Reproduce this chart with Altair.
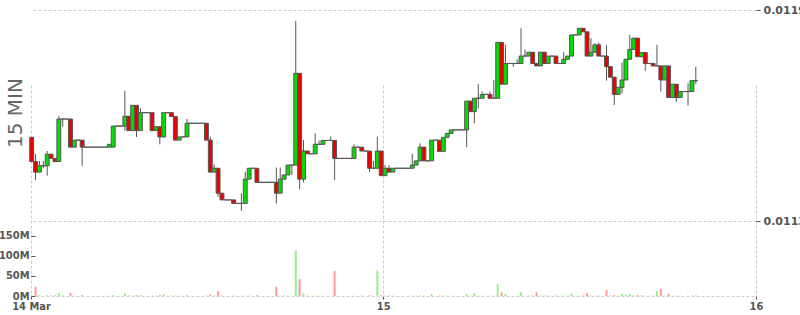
import altair as alt
import pandas as pd
import numpy as np

# ---- data (15-minute candles) ----
open_ = [
    0.011538, 0.011469, 0.011439, 0.011457, 0.011457, 0.011490, 0.011478, 0.011469, 0.011590, 0.011590,
    0.011590, 0.011510, 0.011530, 0.011530, 0.011510, 0.011510, 0.011510, 0.011510, 0.011510, 0.011510,
    0.011510, 0.011510, 0.011570, 0.011570, 0.011570, 0.011598, 0.011557, 0.011629, 0.011557, 0.011608,
    0.011608, 0.011608, 0.011557, 0.011568, 0.011539, 0.011608, 0.011608, 0.011597, 0.011530, 0.011539,
    0.011539, 0.011578, 0.011578, 0.011578, 0.011578, 0.011578, 0.011530, 0.011439, 0.011450, 0.011379,
    0.011360, 0.011360, 0.011360, 0.011350, 0.011350, 0.011350, 0.011419, 0.011450, 0.011450, 0.011410,
    0.011410, 0.011410, 0.011410, 0.011410, 0.011379, 0.011419, 0.011431, 0.011459, 0.011459, 0.011720,
    0.011419, 0.011499, 0.011491, 0.011491, 0.011518, 0.011518, 0.011529, 0.011529, 0.011529, 0.011478,
    0.011478, 0.011478, 0.011478, 0.011478, 0.011510, 0.011510, 0.011499, 0.011499, 0.011450, 0.011450,
    0.011499, 0.011429, 0.011450, 0.011439, 0.011450, 0.011450, 0.011450, 0.011450, 0.011450, 0.011459,
    0.011471, 0.011510, 0.011471, 0.011471, 0.011530, 0.011530, 0.011498, 0.011538, 0.011549, 0.011559,
    0.011559, 0.011559, 0.011559, 0.011641, 0.011611, 0.011649, 0.011649, 0.011660, 0.011660, 0.011649,
    0.011649, 0.011808, 0.011689, 0.011748, 0.011748, 0.011748, 0.011748, 0.011769, 0.011769, 0.011780,
    0.011748, 0.011741, 0.011780, 0.011748, 0.011769, 0.011769, 0.011748, 0.011748, 0.011760, 0.011769,
    0.011829, 0.011829, 0.011848, 0.011838, 0.011769, 0.011780, 0.011801, 0.011769, 0.011769, 0.011739,
    0.011709, 0.011660, 0.011680, 0.011701, 0.011760, 0.011788, 0.011820, 0.011767, 0.011779, 0.011748,
    0.011748, 0.011741, 0.011741, 0.011701, 0.011741, 0.011651, 0.011689, 0.011651, 0.011668, 0.011668,
    0.011668, 0.011699,
]
high = [
    0.011538, 0.011490, 0.011471, 0.011471, 0.011499, 0.011490, 0.011478, 0.011599, 0.011590, 0.011590,
    0.011590, 0.011530, 0.011530, 0.011530, 0.011510, 0.011510, 0.011510, 0.011510, 0.011510, 0.011510,
    0.011518, 0.011570, 0.011570, 0.011570, 0.011670, 0.011598, 0.011629, 0.011629, 0.011621, 0.011608,
    0.011608, 0.011608, 0.011568, 0.011568, 0.011608, 0.011608, 0.011608, 0.011597, 0.011539, 0.011539,
    0.011590, 0.011578, 0.011578, 0.011578, 0.011578, 0.011578, 0.011540, 0.011461, 0.011450, 0.011379,
    0.011360, 0.011360, 0.011360, 0.011350, 0.011379, 0.011440, 0.011450, 0.011450, 0.011450, 0.011410,
    0.011410, 0.011410, 0.011410, 0.011452, 0.011452, 0.011431, 0.011459, 0.011459, 0.011869, 0.011720,
    0.011530, 0.011499, 0.011491, 0.011549, 0.011529, 0.011529, 0.011529, 0.011540, 0.011529, 0.011478,
    0.011478, 0.011478, 0.011478, 0.011518, 0.011510, 0.011510, 0.011499, 0.011499, 0.011471, 0.011540,
    0.011499, 0.011459, 0.011459, 0.011450, 0.011450, 0.011450, 0.011450, 0.011450, 0.011491, 0.011471,
    0.011521, 0.011510, 0.011471, 0.011530, 0.011530, 0.011530, 0.011538, 0.011549, 0.011559, 0.011559,
    0.011559, 0.011559, 0.011641, 0.011641, 0.011649, 0.011690, 0.011668, 0.011660, 0.011668, 0.011701,
    0.011808, 0.011808, 0.011801, 0.011748, 0.011748, 0.011760, 0.011848, 0.011788, 0.011780, 0.011780,
    0.011748, 0.011780, 0.011780, 0.011769, 0.011769, 0.011769, 0.011748, 0.011780, 0.011769, 0.011829,
    0.011829, 0.011848, 0.011848, 0.011838, 0.011820, 0.011805, 0.011808, 0.011769, 0.011801, 0.011739,
    0.011709, 0.011680, 0.011750, 0.011760, 0.011829, 0.011820, 0.011820, 0.011779, 0.011779, 0.011748,
    0.011748, 0.011801, 0.011741, 0.011741, 0.011741, 0.011689, 0.011689, 0.011668, 0.011668, 0.011692,
    0.011699, 0.011739,
]
low = [
    0.011469, 0.011417, 0.011439, 0.011450, 0.011429, 0.011478, 0.011469, 0.011469, 0.011568, 0.011590,
    0.011510, 0.011510, 0.011530, 0.011457, 0.011510, 0.011510, 0.011510, 0.011510, 0.011510, 0.011510,
    0.011510, 0.011510, 0.011570, 0.011570, 0.011557, 0.011557, 0.011557, 0.011539, 0.011557, 0.011608,
    0.011608, 0.011557, 0.011557, 0.011518, 0.011539, 0.011608, 0.011597, 0.011530, 0.011530, 0.011539,
    0.011539, 0.011578, 0.011578, 0.011578, 0.011578, 0.011530, 0.011439, 0.011439, 0.011369, 0.011360,
    0.011360, 0.011360, 0.011350, 0.011350, 0.011329, 0.011350, 0.011419, 0.011450, 0.011410, 0.011410,
    0.011410, 0.011410, 0.011410, 0.011350, 0.011379, 0.011419, 0.011431, 0.011431, 0.011459, 0.011390,
    0.011410, 0.011491, 0.011491, 0.011491, 0.011518, 0.011518, 0.011529, 0.011529, 0.011417, 0.011478,
    0.011478, 0.011478, 0.011478, 0.011478, 0.011510, 0.011499, 0.011499, 0.011439, 0.011450, 0.011450,
    0.011429, 0.011429, 0.011439, 0.011439, 0.011450, 0.011450, 0.011450, 0.011450, 0.011450, 0.011459,
    0.011471, 0.011471, 0.011471, 0.011471, 0.011530, 0.011498, 0.011498, 0.011538, 0.011549, 0.011559,
    0.011559, 0.011559, 0.011510, 0.011611, 0.011578, 0.011620, 0.011649, 0.011660, 0.011649, 0.011649,
    0.011649, 0.011689, 0.011689, 0.011748, 0.011739, 0.011748, 0.011748, 0.011769, 0.011769, 0.011748,
    0.011741, 0.011741, 0.011748, 0.011748, 0.011769, 0.011748, 0.011748, 0.011748, 0.011760, 0.011769,
    0.011829, 0.011829, 0.011838, 0.011769, 0.011769, 0.011780, 0.011769, 0.011769, 0.011699, 0.011709,
    0.011630, 0.011660, 0.011663, 0.011701, 0.011760, 0.011788, 0.011767, 0.011767, 0.011727, 0.011748,
    0.011741, 0.011741, 0.011668, 0.011701, 0.011651, 0.011651, 0.011639, 0.011651, 0.011668, 0.011628,
    0.011668, 0.011689,
]
close = [
    0.011469, 0.011439, 0.011457, 0.011457, 0.011490, 0.011478, 0.011469, 0.011590, 0.011590, 0.011590,
    0.011510, 0.011530, 0.011530, 0.011510, 0.011510, 0.011510, 0.011510, 0.011510, 0.011510, 0.011510,
    0.011518, 0.011570, 0.011570, 0.011570, 0.011598, 0.011557, 0.011629, 0.011557, 0.011608, 0.011608,
    0.011608, 0.011557, 0.011568, 0.011539, 0.011608, 0.011608, 0.011597, 0.011530, 0.011539, 0.011539,
    0.011578, 0.011578, 0.011578, 0.011578, 0.011578, 0.011530, 0.011439, 0.011450, 0.011379, 0.011360,
    0.011360, 0.011360, 0.011350, 0.011350, 0.011350, 0.011419, 0.011450, 0.011450, 0.011410, 0.011410,
    0.011410, 0.011410, 0.011410, 0.011379, 0.011419, 0.011431, 0.011459, 0.011459, 0.011720, 0.011419,
    0.011499, 0.011491, 0.011491, 0.011518, 0.011518, 0.011529, 0.011529, 0.011529, 0.011478, 0.011478,
    0.011478, 0.011478, 0.011478, 0.011510, 0.011510, 0.011499, 0.011499, 0.011450, 0.011450, 0.011499,
    0.011429, 0.011450, 0.011439, 0.011450, 0.011450, 0.011450, 0.011450, 0.011450, 0.011459, 0.011471,
    0.011510, 0.011471, 0.011471, 0.011530, 0.011530, 0.011498, 0.011538, 0.011549, 0.011559, 0.011559,
    0.011559, 0.011559, 0.011641, 0.011611, 0.011649, 0.011649, 0.011660, 0.011660, 0.011649, 0.011649,
    0.011808, 0.011689, 0.011748, 0.011748, 0.011748, 0.011748, 0.011769, 0.011769, 0.011780, 0.011748,
    0.011741, 0.011780, 0.011748, 0.011769, 0.011769, 0.011748, 0.011748, 0.011760, 0.011769, 0.011829,
    0.011829, 0.011848, 0.011838, 0.011769, 0.011780, 0.011801, 0.011769, 0.011769, 0.011739, 0.011709,
    0.011660, 0.011680, 0.011701, 0.011760, 0.011788, 0.011820, 0.011767, 0.011779, 0.011748, 0.011748,
    0.011741, 0.011741, 0.011701, 0.011741, 0.011651, 0.011689, 0.011651, 0.011668, 0.011668, 0.011668,
    0.011699, 0.011699,
]
# volume in millions
volume_m = [
    0.8, 23, 2, 0.5, 2, 1, 1.5, 7.5, 1.5, 0,
    7.5, 1, 0, 2, 0, 0, 0, 0, 0, 0,
    1, 2, 0, 0, 7, 1.5, 1, 2, 2, 0,
    0, 1, 1, 2, 4, 0, 1, 1, 1, 0,
    2, 0, 0, 0, 0, 1, 4, 1, 12, 1,
    0, 0, 1, 0, 0.5, 1, 1, 0, 2, 0,
    0, 0, 0, 23, 2, 1, 1, 0.5, 114, 42,
    7, 1, 0, 1, 0.5, 1, 0, 0.5, 62, 0,
    0, 0, 0, 1, 0, 1, 0, 2, 0.5, 64,
    2, 1, 1, 1, 0, 0, 0, 0, 1, 1,
    1, 1, 0, 5, 0, 1, 1, 1, 1, 0,
    0, 0, 5, 1, 7, 1, 1, 0, 1, 0.5,
    29, 9, 5, 0, 0, 0, 9, 0.5, 1, 1,
    9, 1, 1, 1, 0, 1, 0, 1, 1, 5,
    0, 1, 1, 7, 1, 1, 1, 0, 15, 1,
    2, 1, 5, 3, 5, 1, 2, 2, 1, 0,
    1, 12, 17, 1, 5, 1, 1, 1, 0, 0.5,
    1, 2,
]
first_candle = "2024-03-14 01:15"
price_ticks = [0.0113, 0.0119]
volume_ticks = [0, 50, 100, 150]

# ---- styling ----
GREEN = "#00e000"
RED = "#ee0000"
VGREEN = "#99ee88"
VRED = "#ff9999"
STROKE = "#555555"
GRID = "#cccccc"
TEXT = "#555555"
FONT = "DejaVu Sans Condensed, DejaVu Sans, sans-serif"

times = pd.date_range(first_candle, periods=len(open_), freq="15min")
df = pd.DataFrame({
    "t": times,
    "t_end": times + pd.Timedelta(minutes=15),
    "mid": times + pd.Timedelta(minutes=7.5),
    "open": open_, "high": high, "low": low, "close": close,
    "vol": volume_m,
})
o = np.array(open_)
c = np.array(close)
df["dir"] = np.where(c > o, "up", np.where(c < o, "down", "flat"))
df["vdir"] = np.where(c >= o, "up", "down")

d_start = alt.DateTime(year=2024, month=3, date=14, hours=1, minutes=20)
d_15 = alt.DateTime(year=2024, month=3, date=15)
d_16 = alt.DateTime(year=2024, month=3, date=16)

x_scale = alt.Scale(domain=[d_start, d_16], padding=0, nice=False)
x_axis = alt.Axis(
    values=[d_start, d_15, d_16],
    labelExpr="date(datum.value) == 14 ? '14 Mar' : '' + date(datum.value)",
    grid=True, gridColor=GRID, gridDash=[3, 2],
    domain=True, domainColor=GRID, domainDash=[3, 2],
    tickColor=STROKE, tickSize=3, labelFlush=False, labelOverlap=False,
    labelFont=FONT, labelFontSize=11, labelFontWeight="bold", labelColor=TEXT,
    labelPadding=1, title=None,
)

price_scale = alt.Scale(domain=[0.0113, 0.0119], range=[211, 0], zero=False, nice=False)
price_axis = alt.Axis(
    orient="right", values=price_ticks, format=".4f",
    grid=True, gridColor=GRID, gridDash=[3, 2], domain=False,
    tickSize=4, tickColor=STROKE, labelPadding=3,
    labelFont="DejaVu Sans", labelFontSize=11, labelFontWeight="bold", labelColor=TEXT,
    title=None,
)

vol_scale = alt.Scale(domain=[0, 186.6], range=[286, 211], nice=False)
vol_axis = alt.Axis(
    orient="left", values=volume_ticks, labelExpr="datum.value + 'M'",
    grid=False, domain=False, offset=-4, tickSize=4, tickColor=STROKE,
    labelPadding=2, labelFont=FONT, labelFontSize=11, labelFontWeight="bold",
    labelColor=TEXT,
    title="15 MIN", titleX=-19.5, titleY=102.5, titleAngle=270,
    titleAlign="center", titleBaseline="middle", titleFontSize=20,
    titleFontWeight="normal", titleFont="DejaVu Sans", titleColor="#666666",
)

wick = alt.Chart(df).mark_rule(color=STROKE, strokeWidth=1).encode(
    x=alt.X("mid:T", scale=x_scale, axis=x_axis, title=None),
    y=alt.Y("low:Q", scale=price_scale, axis=price_axis, title=None),
    y2="high:Q",
)
body = alt.Chart(df).mark_rect(stroke=STROKE, strokeWidth=1).encode(
    x=alt.X("t:T", title=None),
    x2="t_end:T",
    y=alt.Y("open:Q", title=None),
    y2="close:Q",
    fill=alt.Fill("dir:N", scale=alt.Scale(domain=["up", "down", "flat"],
                                           range=[GREEN, RED, STROKE]), legend=None),
)
price = alt.layer(wick, body)

vol = alt.Chart(df).mark_bar(size=2).encode(
    x=alt.X("mid:T", title=None),
    y=alt.Y("vol:Q", scale=vol_scale, axis=vol_axis),
    color=alt.Color("vdir:N", scale=alt.Scale(domain=["up", "down"],
                                              range=[VGREEN, VRED]), legend=None),
)

chart = alt.layer(price, vol).resolve_scale(y="independent").properties(
    width=725, height=286,
    padding={"left": 31, "top": 10, "right": 44, "bottom": 19},
    autosize=alt.AutoSizeParams(type="none"),
    background="white",
).configure_view(stroke=None)

chart.save("out.html", embed_options={"renderer": "svg", "actions": False})
